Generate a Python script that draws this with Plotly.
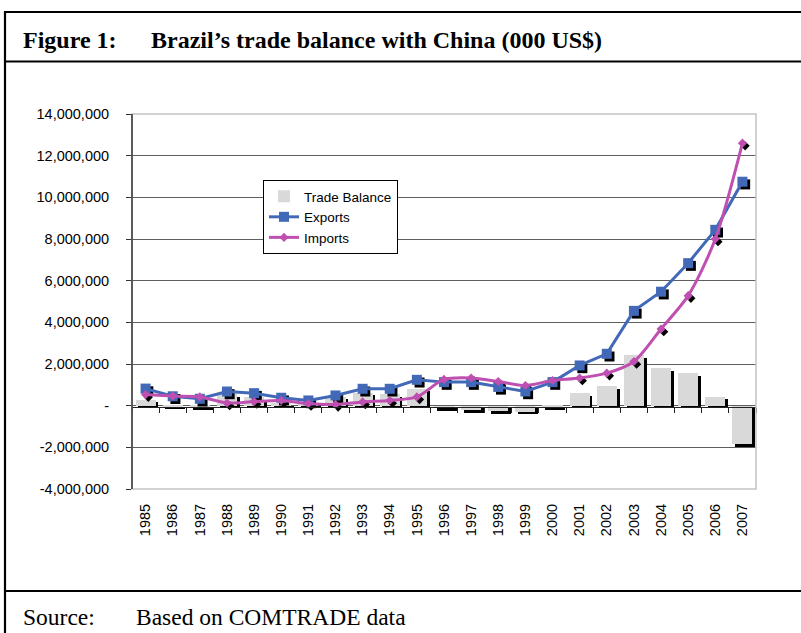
import plotly.graph_objects as go

# ---------------- data (000 US$) ----------------
years = ["1985", "1986", "1987", "1988", "1989", "1990", "1991", "1992", "1993", "1994",
         "1995", "1996", "1997", "1998", "1999", "2000", "2001", "2002", "2003", "2004",
         "2005", "2006", "2007"]
exports = [820000, 450000, 330000, 680000, 600000, 380000, 250000, 490000, 810000, 810000,
           1240000, 1130000, 1130000, 900000, 680000, 1130000, 1930000, 2490000, 4550000, 5470000,
           6840000, 8440000, 10750000]
imports = [530000, 460000, 420000, 130000, 200000, 250000, 100000, 60000, 180000, 250000,
           420000, 1260000, 1330000, 1160000, 970000, 1210000, 1330000, 1560000, 2120000, 3680000,
           5280000, 8000000, 12600000]
trade_balance = [290000, -30000, -90000, 550000, 400000, 130000, 150000, 430000, 630000, 560000,
                 820000, -130000, -200000, -260000, -290000, -80000, 600000, 930000, 2430000, 1790000,
                 1560000, 440000, -1850000]
y_tick_vals = [14000000, 12000000, 10000000, 8000000, 6000000, 4000000, 2000000, 0, -2000000, -4000000]
y_tick_text = ["14,000,000", "12,000,000", "10,000,000", "8,000,000", "6,000,000", "4,000,000",
               "2,000,000", "-", "-2,000,000", "-4,000,000"]

# ---------------- layout geometry (pixels) ----------------
W, H = 801, 633
PL, PR, PT, PB = 132, 756, 114, 489


def px(x):
    return (x - PL) / (PR - PL)


def py(y):
    return (PB - y) / (PB - PT)


xi = list(range(len(years)))
BAR_W = 0.74
DX = 0.1          # shadow shift (category units)
DY = 130000       # shadow shift (value units)

GREY = "#d9d9d9"
BLUE = "#4169b8"
MAG = "#bf4fb0"
FONT = "Liberation Sans, Arial, sans-serif"
SERIF = "Liberation Serif, Times New Roman, serif"

fig = go.Figure()

# bar shadows
fig.add_trace(go.Bar(x=xi, y=trade_balance, base=-DY, width=BAR_W, offset=-BAR_W / 2 + DX,
                     marker=dict(color="black", line=dict(width=0)), showlegend=False,
                     hoverinfo="skip"))
# bars
fig.add_trace(go.Bar(x=xi, y=trade_balance, width=BAR_W, offset=-BAR_W / 2,
                     marker=dict(color=GREY, line=dict(width=0)), name="Trade Balance"))
# marker shadows
fig.add_trace(go.Scatter(x=[v + DX for v in xi], y=[v - DY for v in exports], mode="markers",
                         marker=dict(symbol="square", size=10, color="black"),
                         showlegend=False, hoverinfo="skip"))
fig.add_trace(go.Scatter(x=[v + DX for v in xi], y=[v - DY for v in imports], mode="markers",
                         marker=dict(symbol="diamond", size=7, color="black"),
                         showlegend=False, hoverinfo="skip"))
# exports
fig.add_trace(go.Scatter(x=xi, y=exports, mode="lines+markers", name="Exports",
                         line=dict(color=BLUE, width=3),
                         marker=dict(symbol="square", size=10, color=BLUE)))
# imports (smoothed)
fig.add_trace(go.Scatter(x=xi, y=imports, mode="lines+markers", name="Imports",
                         line=dict(color=MAG, width=3, shape="spline", smoothing=0.8),
                         marker=dict(symbol="diamond", size=7, color=MAG)))
# invisible trace for the zero-line category axis
fig.add_trace(go.Scatter(x=[0], y=[0], xaxis="x2", mode="markers",
                         marker=dict(opacity=0), showlegend=False, hoverinfo="skip"))

shapes = [
    # plot area border (light grey)
    dict(type="rect", xref="paper", yref="paper", x0=0, x1=1, y0=0, y1=1,
         line=dict(color="#c4c4c4", width=1.5), layer="above"),
    # left axis line
    dict(type="line", xref="paper", yref="paper", x0=0, x1=0, y0=0, y1=1,
         line=dict(color="#333333", width=1.5), layer="above"),
    # outer frame
    dict(type="line", xref="paper", yref="paper", x0=px(5), x1=px(801), y0=py(12), y1=py(12),
         line=dict(color="black", width=2.2)),
    dict(type="line", xref="paper", yref="paper", x0=px(5), x1=px(801), y0=py(61.5), y1=py(61.5),
         line=dict(color="black", width=2.2)),
    dict(type="line", xref="paper", yref="paper", x0=px(5), x1=px(801), y0=py(591), y1=py(591),
         line=dict(color="black", width=2.2)),
    dict(type="line", xref="paper", yref="paper", x0=px(5), x1=px(5), y0=py(11), y1=py(640),
         line=dict(color="black", width=2.2)),
]

annotations = [
    dict(text="<b>Figure 1:</b>", xref="paper", yref="paper", x=px(21), y=py(40),
         xanchor="left", yanchor="middle", showarrow=False,
         font=dict(family=SERIF, size=24, color="black")),
    dict(text="<b>Brazil’s trade balance with China (000 US$)</b>", xref="paper", yref="paper",
         x=px(149), y=py(40), xanchor="left", yanchor="middle", showarrow=False,
         font=dict(family=SERIF, size=24, color="black")),
    dict(text="Source:", xref="paper", yref="paper", x=px(21), y=py(617),
         xanchor="left", yanchor="middle", showarrow=False,
         font=dict(family=SERIF, size=23.5, color="black")),
    dict(text="Based on COMTRADE data", xref="paper", yref="paper", x=px(134), y=py(617),
         xanchor="left", yanchor="middle", showarrow=False,
         font=dict(family=SERIF, size=23.5, color="black")),
]

fig.update_layout(
    width=W, height=H,
    margin=dict(l=PL, r=W - PR, t=PT, b=H - PB, autoexpand=False),
    paper_bgcolor="white", plot_bgcolor="white",
    barmode="overlay", bargap=0,
    font=dict(family=FONT, size=14.5, color="black"),
    shapes=shapes, annotations=annotations,
    legend=dict(x=px(263), y=py(180), xanchor="left", yanchor="top",
                bgcolor="white", bordercolor="black", borderwidth=1,
                font=dict(family=FONT, size=13.5, color="black"),
                itemwidth=30, tracegroupgap=0),
    xaxis=dict(range=[-0.5, len(years) - 0.5], tickmode="array", tickvals=xi, ticktext=years,
               tickangle=-90, showgrid=False, zeroline=False, showline=False, ticks="",
               ticklabelstandoff=11, tickfont=dict(family=FONT, size=14.5, color="black")),
    xaxis2=dict(overlaying="x", anchor="free", position=py(406.5), side="bottom",
                range=[-0.5, len(years) - 0.5], tickmode="array",
                tickvals=[i - 0.5 for i in range(len(years) + 1)],
                showticklabels=False, ticks="outside", ticklen=5, tickcolor="#222222",
                showline=True, linecolor="#222222", linewidth=1.2, showgrid=False, zeroline=False),
    yaxis=dict(range=[-4000000, 14000000], tickmode="array", tickvals=y_tick_vals,
               ticktext=y_tick_text, showgrid=True, gridcolor="#5e5e5e", gridwidth=1,
               zeroline=False, showline=False, ticks="outside", ticklen=5, tickcolor="#333333",
               ticklabelstandoff=14, tickfont=dict(family=FONT, size=14.5, color="black")),
)

fig.write_html("out.html", config={"displayModeBar": False},
               post_script="document.body.style.margin='0';")
